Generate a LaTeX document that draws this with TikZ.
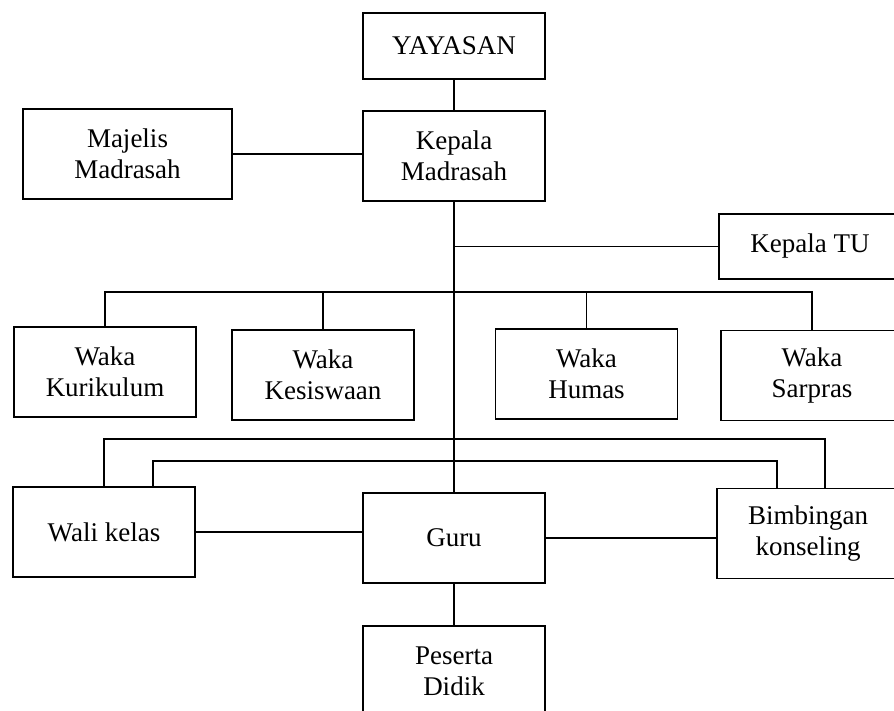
\documentclass[tikz,border=0pt]{standalone}
\usepackage{fontspec}
\setmainfont{Liberation Serif}
\begin{document}
\begin{tikzpicture}[x=1pt,y=-1pt,
  box/.style={draw,line width=1.8pt,minimum width=182pt,minimum height=90pt,
    inner sep=0pt,align=center,font=\fontsize{27}{31}\selectfont},
  link/.style={line width=1.8pt}]
% page
\clip (0,0) rectangle (894,710);
% coordinates
\coordinate (wbus) at (454,292);%
\coordinate (bus2) at (454,439);%
\coordinate (bus3) at (454,461);%
% boxes
\node[box,minimum height=66pt]  (yayasan)   at (454,46)    {YAYASAN};
\node[box]                      (kepala)    at (454,156)   {Kepala\\Madrasah};
\node[box,minimum width=209pt]  (majelis)   at (127.5,154) {Majelis\\Madrasah};
\node[box,minimum height=65pt]  (kepalatu)  at (810,246.5) {Kepala TU};
\node[box]                      (kurikulum) at (105,372)   {Waka\\Kurikulum};
\node[box]                      (kesiswaan) at (323,375)   {Waka\\Kesiswaan};
\node[box]                      (humas)     at (586.5,374) {Waka\\Humas};
\node[box]                      (sarpras)   at (812,375.5) {Waka\\Sarpras};
\node[box]                      (wali)      at (104,532)   {Wali kelas};
\node[box]                      (guru)      at (454,538)   {Guru};
\node[box]                      (bimbingan) at (808,533.5) {Bimbingan\\konseling};
\node[box]                      (peserta)   at (454,671)   {Peserta\\Didik};
% top
\draw[link] (yayasan) -- (kepala);
\draw[link] (majelis.east) -- (majelis.east -| kepala.west);
\draw[link] (kepala) -- (guru);
\draw[link] (kepala.south |- kepalatu.west) -- (kepalatu.west);
% waka
\draw[link] (kurikulum.north) |- (wbus) -| (sarpras.north);
\draw[link] (kesiswaan.north) -- (kesiswaan.north |- wbus);
\draw[link] (humas.north) -- (humas.north |- wbus);
% wali kelas and bimbingan
\draw[link] (wali.north) |- (bus2) -| ([xshift=17pt]bimbingan.north);
\draw[link] ([xshift=49pt]wali.north) |- (bus3) -| ([xshift=-31pt]bimbingan.north);
% bottom
\draw[link] (wali.east) -- (wali.east -| guru.west);
\draw[link] (guru.east) -- (guru.east -| bimbingan.west);
\draw[link] (guru) -- (peserta);
\end{tikzpicture}
\end{document}
